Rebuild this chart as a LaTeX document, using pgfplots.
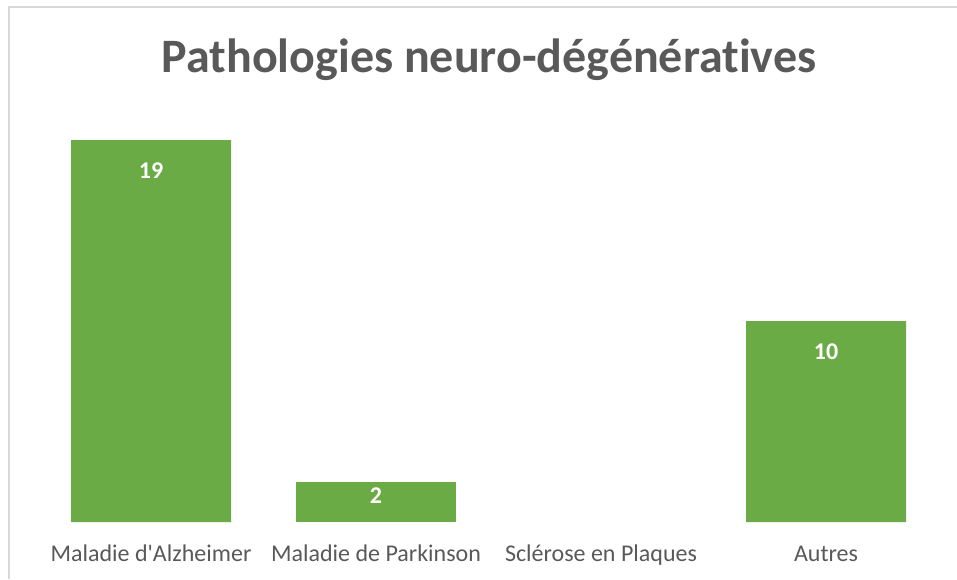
\documentclass[border=0pt]{standalone}
\usepackage{pgfplots}
\pgfplotsset{compat=1.18}
\usepackage{fontspec}
\setmainfont{Carlito}[Ligatures=CommonOff]
\definecolor{bargreen}{HTML}{6AAB46}
\definecolor{txtgray}{HTML}{595959}
\definecolor{frame}{HTML}{D9D9D9}
\begin{document}
\begin{tikzpicture}[x=1pt,y=1pt]
\useasboundingbox (0,0) rectangle (957,579);
\draw[frame, line width=1.5pt] (9,0) -- (9,572) -- (958,572);
\node[anchor=base, text=txtgray, font=\fontsize{48}{56}\selectfont\bfseries] at (489,506) {Pathologies neuro-dégénératives};
\begin{axis}[
  at={(38.5pt,57pt)}, anchor=south west,
  scale only axis, width=900pt, height=402pt,
  xmin=-0.5, xmax=3.5, ymin=0, ymax=20,
  axis line style={draw=none},
  major tick length=0pt,
  ytick=\empty,
  xtick={0,1,2,3},
  xticklabels={Maladie d\textquotesingle Alzheimer, Maladie de Parkinson, Sclérose en Plaques, Autres},
  xticklabel style={anchor=base, yshift=-39pt, text=txtgray, font=\fontsize{24}{28}\selectfont, inner sep=0pt},
  ybar, bar width=160pt, bar shift=0pt,
  clip=false,
  /pgf/number format/assume math mode=true,
  nodes near coords,
  every node near coord/.append style={anchor=base, yshift=-38pt, text=white, font=\fontsize{24}{28}\selectfont\bfseries, inner sep=0pt},
]
\addplot[fill=bargreen, draw=none] coordinates {(0,19) (3,10)};
\addplot[fill=bargreen, draw=none, every node near coord/.append style={yshift=16pt}] coordinates {(1,2)};
\end{axis}
\end{tikzpicture}
\end{document}
